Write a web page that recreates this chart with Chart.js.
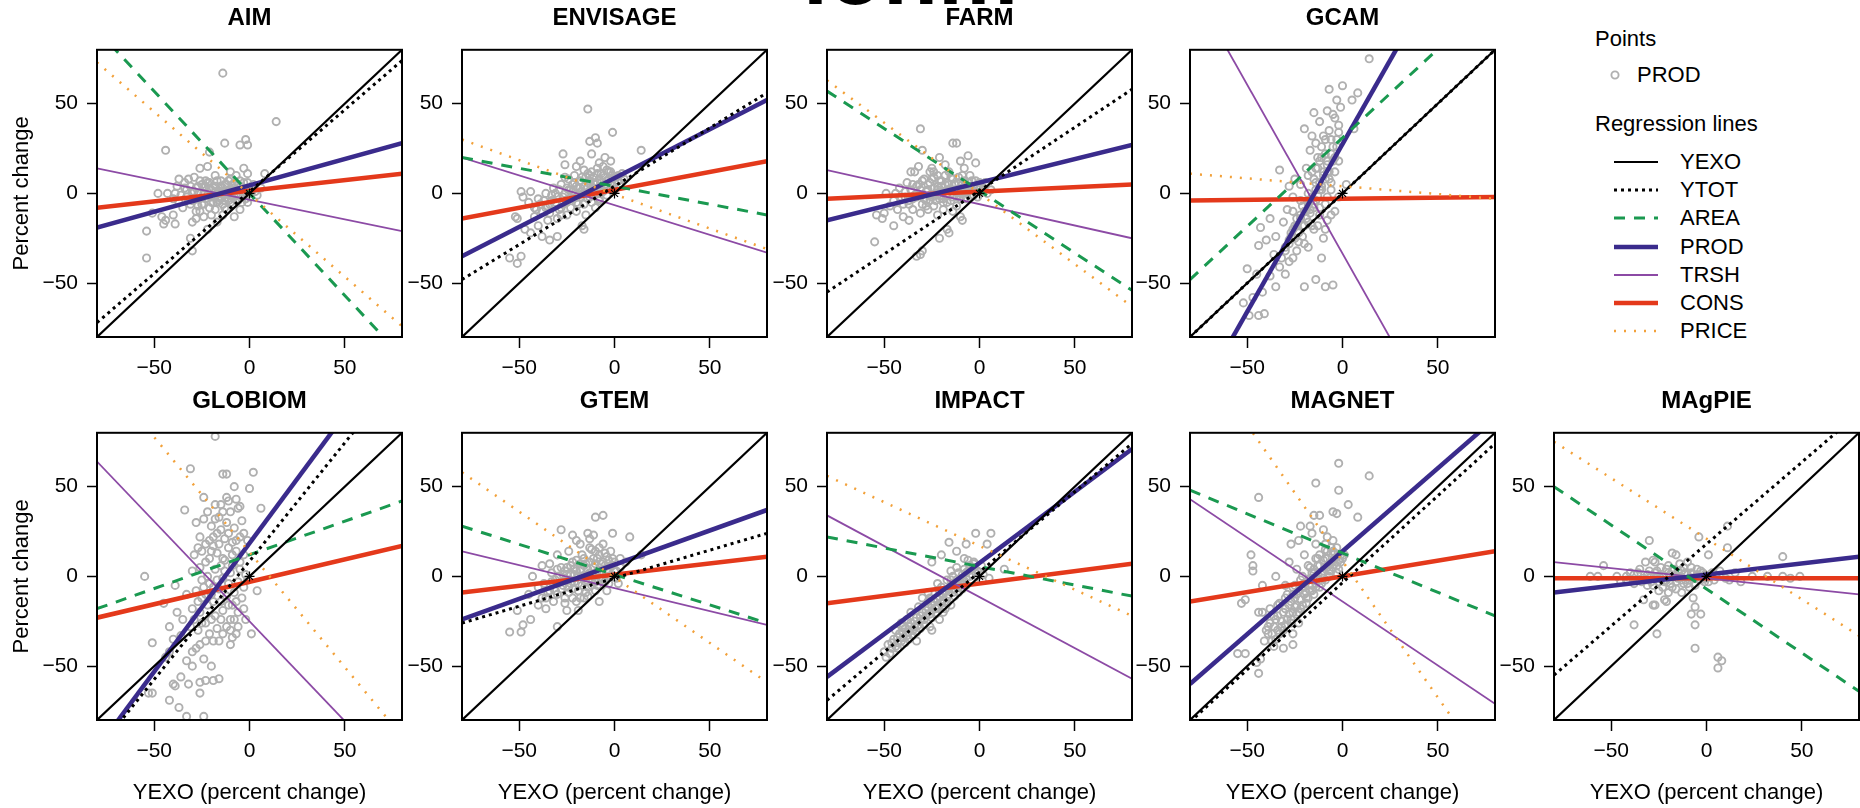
<!DOCTYPE html>
<html>
<head>
<meta charset="utf-8">
<script src="https://cdn.jsdelivr.net/npm/chart.js"></script>
<style>
  body { margin: 0; width: 1860px; height: 808px; overflow: hidden; background: #fff; position: relative;
         font-family: "Liberation Sans", Arial, Helvetica, sans-serif; color: #000; }
  canvas { position: absolute; }
  .txt { position: absolute; font-size: 22px; line-height: 26px; white-space: nowrap; }
  .cut { position: absolute; left: 803px; top: -72px; font-size: 90px; line-height: 90px; font-weight: bold; white-space: nowrap; }
  svg { position: absolute; left: 0; top: 0; }
</style>
</head>
<body>
<div class="cut">ionm</div>

<script>
// ---- data ----
const models = ['AIM', 'ENVISAGE', 'FARM', 'GCAM', 'GLOBIOM', 'GTEM', 'IMPACT', 'MAGNET', 'MAgPIE'];
const tickVals = [-50, 0, 50];
const lineX = [-80, 80];
const originMark = [0, 0];

// y of each regression line at x = -80 and x = 80, one pair per model
const yexoEnds = [-80, 80];
const ytotEnds  = [[-72, 74], [-48, 56], [-55, 58], [-80, 80], [-97, 114], [-26, 24], [-69, 74], [-81, 74], [-55, 91]];
const areaEnds  = [[91, -91], [20, -12], [57, -54], [-48, 110], [-18, 42], [28, -26], [22, -11], [48, -22], [50, -64]];
const prodEnds  = [[-19, 28], [-35, 52], [-15, 27], [-122, 177], [-96, 133], [-24, 37], [-56, 71], [-60, 88], [-9, 11]];
const trshEnds  = [[14, -21], [20, -33], [13, -25], [117, -184], [64, -114], [14, -27], [34, -57], [43, -71], [8, -10]];
const consEnds  = [[-8, 11], [-14, 18], [-3, 5], [-4, -2], [-23, 17], [-9, 11], [-15, 7], [-14, 14], [-1, -1]];
const priceEnds = [[73, -74], [30, -31], [63, -63], [11, -3], [116, -89], [58, -59], [56, -22], [130, -113], [75, -33]];

// PROD vs YEXO points
const aimPts = [[-14,67],[14,40],[-2,30],[-1,27],[-5,27],[-13,28],[-44,24],[-21,23],[-26,14],[-22,15],[-3,14],[-10,12],[-1,11],[8,11],[-37,8],[-32,8],
  [-48,0],[-43,0],[-51,-11],[-46,-13],[-40,-12],[-44,-15],[-45,-17],[-39,-17],[-30,-16],[-28,-14],[-54,-21],[-31,-25],[-54,-36],[-30,-32],
  [-40,-3],[-36,-1],[-33,2],[-30,-4],[-28,3],[-27,-7],[-25,5],[-24,0],[-23,-3],[-22,6],[-21,-8],[-20,2],[-19,-2],[-18,4],[-17,-5],[-16,1],[-15,7],
  [-15,-3],[-14,3],[-13,-8],[-12,0],[-12,5],[-11,-4],[-10,8],[-10,2],[-9,-6],[-8,3],[-7,-1],[-6,5],[-5,-9],[-4,1],[-3,6],[-2,-3],[0,2],[2,5],[4,-1],
  [6,3],[-26,-10],[-20,-12],[-17,-16],[-14,-12],[-8,-13],[-35,-8],[-38,4],[-29,9],[-18,10],[-7,10],[-24,-13],[-22,-20],
  [-34,3],[-31,-6],[-29,1],[-27,4],[-26,-3],[-23,7],[-21,3],[-19,-5],[-18,1],[-16,-2],[-15,4],[-13,-4],[-11,1],[-9,4],[-8,-2],[-6,-4],[-5,2],
  [-3,-1],[-1,-5],[1,0],[-24,-6],[-20,-2],[-14,0],[-10,-1],[-7,2],
  [-33,-2],[-31,4],[-29,-3],[-27,0],[-26,7],[-25,-6],[-23,4],[-22,-1],[-21,6],[-20,-5],[-19,3],[-18,-1],[-17,7],[-16,-4],[-15,1],[-14,-6],
  [-13,5],[-12,-2],[-11,7],[-10,-5],[-9,1],[-8,6],[-7,-4],[-6,0],[-5,7],[-4,-5],[-3,3],[-2,0],[-1,6],[0,-2],[1,3],[3,1],[-37,-5],[-34,6],
  [-30,1],[-24,3],[-28,-10],[-18,-9],[-12,-9],[-39,0]];
const envisagePts = [[-14,47],[-1,34],[14,24],[-10,31],[-13,29],[-9,28],[-27,22],[-12,22],[-5,20],[-8,17],[-2,18],[-20,15],[-16,13],[-4,13],[2,10],
  [-55,-36],[-51,-39],[-49,-35],[-49,1],[-44,1],[-48,-2],[-52,-13],[-51,-14],[-34,-26],[-30,-24],[-16,-20],[-17,-18],
  [-45,-5],[-42,-8],[-40,-3],[-38,-10],[-36,0],[-34,-6],[-32,3],[-30,-2],[-29,-9],[-28,5],[-26,0],[-25,-5],[-24,8],[-23,2],[-22,-3],[-21,10],[-20,4],
  [-19,-1],[-18,7],[-17,1],[-16,-6],[-15,9],[-14,3],[-13,-2],[-12,12],[-11,6],[-10,0],[-9,14],[-8,8],[-7,3],[-6,10],[-5,5],[-4,-1],[-3,8],[-2,2],
  [0,6],[3,4],[5,8],[-25,-12],[-20,-10],[-35,-15],[-40,-18],[-44,-22],[-30,-14],[-15,-12],[-10,-8],[-47,-20],[-38,-24],[-26,16],[-18,18],
  [-33,-4],[-31,0],[-27,-6],[-24,2],[-22,5],[-20,-2],[-18,3],[-16,0],[-14,6],[-13,10],[-11,3],[-9,6],[-7,11],[-6,1],[-4,7],[-2,12],[-1,4],
  [1,9],[-28,-12],[-23,-8],[-19,-6],[-12,-5],[-8,-3],[-36,-8],[-42,-13],
  [-41,-9],[-39,-6],[-37,-4],[-35,-7],[-33,-1],[-31,-5],[-29,2],[-27,-2],[-25,3],[-24,-3],[-22,1],[-21,6],[-19,3],[-18,-2],[-17,9],[-16,4],
  [-15,0],[-14,11],[-13,7],[-12,2],[-11,9],[-10,5],[-9,11],[-8,1],[-7,6],[-6,15],[-5,9],[-4,3],[-3,12],[-2,6],[-1,10],[0,2],[2,7],[4,11],
  [-28,-8],[-34,-11],[-20,-5],[-14,-3],[-8,-4],[-26,9]];
const farmPts = [[-31,36],[-14,28],[-12,28],[-30,24],[-21,20],[-2,17],[-34,12],[-32,15],[-36,12],[-25,14],[-18,16],[-8,14],[-5,10],
  [-55,-27],[-50,-11],[-54,-12],[-51,-14],[-45,-18],[-49,0],[-44,0],[-39,-2],[-37,-6],[-33,-35],[-30,-32],[-31,-34],[-21,-25],[-16,-22],[-17,-20],
  [-10,-13],[-9,-15],[-19,-5],[-24,-7],[-31,-11],[-37,-15],[-40,-13],
  [-42,3],[-40,-6],[-38,6],[-35,-3],[-33,4],[-31,-1],[-29,8],[-28,-4],[-27,2],[-26,6],[-25,-2],[-24,9],[-23,0],[-22,4],[-21,-3],[-20,7],[-19,1],
  [-18,10],[-17,-1],[-16,5],[-15,-4],[-14,8],[-13,2],[-12,-2],[-11,6],[-10,0],[-9,10],[-8,3],[-7,-3],[-6,6],[-4,2],[-3,-1],[-1,4],[1,1],[3,6],[6,2],
  [-27,-9],[-22,-12],[-14,-10],[-26,12],[-10,18],[-6,21],
  [-36,2],[-34,-1],[-32,5],[-30,-6],[-28,1],[-26,-4],[-24,3],[-22,-1],[-20,4],[-19,-3],[-17,6],[-15,2],[-13,5],[-11,-1],[-9,5],[-7,1],[-5,4],
  [-3,3],[-2,7],[0,3],[-45,-4],[-43,-9],[-47,-7],[-16,12],[-22,10],
  [-41,-2],[-39,1],[-37,-4],[-35,5],[-33,-2],[-31,2],[-30,7],[-29,-3],[-27,5],[-26,-1],[-25,8],[-23,-4],[-22,2],[-21,7],[-20,-1],[-18,5],
  [-17,-5],[-16,2],[-15,9],[-14,-2],[-13,5],[-12,1],[-11,9],[-10,-3],[-9,3],[-8,7],[-7,0],[-6,3],[-5,-2],[-4,7],[-2,1],[-1,-2],[0,6],[2,3],
  [4,0],[-35,-9],[-28,-7],[-19,-9],[-12,-7],[-24,12]];
const gcamPts = [[14,75],[-7,58],[8,56],[5,52],[-15,45],[6,36],[-20,36],[-12,40],[-8,46],[-4,42],[-2,38],[-10,32],[-6,30],[-14,28],[-3,26],[-9,22],
  [-17,24],[-12,18],[-5,18],[-19,14],[-33,13],[-8,12],[-15,8],[-22,5],[-11,4],[-18,0],[-6,2],[-26,-2],[-14,-4],[-21,-7],[-9,-6],[-29,-9],[-17,-11],
  [-24,-14],[-12,-12],[-31,-16],[-20,-18],[-27,-22],[-15,-20],[-35,-24],[-23,-27],[-40,-26],[-44,-29],[-30,-30],[-36,-34],[-26,-36],[-33,-41],
  [-50,-42],[-45,-45],[-38,-46],[-52,-61],[-49,-68],[-44,-68],[-41,-67],[-20,-52],[-14,-48],[-9,-52],[-5,-51],[-35,-52],[-42,-55],[-47,-58],
  [-30,-45],[-28,-38],[-18,-30],[-10,-25],[-8,-15],[-4,-10],[-2,-2],[-25,8],[-13,14],[-28,4],[-38,-14],[-43,-19],[-7,8],[-16,32],[-1,48],[-11,-36],[2,5],
  [-13,20],[-11,26],[-9,30],[-7,35],[-5,44],[-16,12],[-14,6],[-12,2],[-17,-4],[-15,-8],[-19,-10],[-22,-12],[-18,-16],[-25,-18],[-21,-24],
  [-28,-26],[-24,-32],[-32,-36],[-9,-20],[-6,-12],[-13,-18],[-3,52],[0,60],[-10,10],[-8,18],
  [-30,-32],[-28,-28],[-27,-24],[-26,-20],[-25,-25],[-24,-18],[-23,-22],[-22,-14],[-21,-18],[-20,-10],[-19,-14],[-18,-6],[-17,-9],[-16,-2],
  [-15,-6],[-14,2],[-13,-1],[-12,6],[-11,2],[-10,12],[-9,8],[-8,16],[-7,12],[-6,22],[-5,26],[-4,20],[-3,30],[-2,34],[-11,20],[-14,14],
  [-18,10],[-22,-4],[-26,-10],[-20,-28],[-16,-18],[-12,-8],[-8,-2],[-6,6],[-4,12],[-2,18]];
const globiomPts = [[-18,78],[-31,60],[-14,57],[-12,57],[2,58],[0,49],[-34,37],[-11,42],[-7,43],[-5,39],[6,38],[-55,0],[-39,-5],[-51,-37],[-53,-65],
  [-51,-65],[-40,-60],[-39,-61],[-42,-69],[-37,-73],[-33,-78],[-24,-78],[-26,-59],[-23,-58],[-19,-58],[-16,-57],[-44,-45],[-42,-42],[-33,-47],
  [-30,-42],[-26,-38],[-23,-36],[-19,-36],[-16,-36],[-10,-38],[-9,-34],[-7,-32],[1,-32],
  [-28,30],[-24,32],[-20,28],[-16,33],[-12,30],[-8,27],[-4,31],[-26,22],[-21,20],[-17,24],[-13,21],[-9,19],[-5,22],[-1,20],[-29,12],[-25,14],
  [-21,10],[-17,13],[-13,9],[-9,12],[-5,8],[-30,3],[-26,5],[-22,0],[-18,4],[-14,-1],[-10,2],[-6,-3],[-2,1],[-28,-8],[-24,-6],[-20,-10],[-16,-7],
  [-12,-11],[-8,-9],[-4,-12],[-30,-18],[-26,-20],[-22,-16],[-18,-22],[-14,-19],[-10,-24],[-6,-20],[-35,-24],[-31,-28],[-27,-30],[-23,-26],
  [-17,-29],[-12,-28],[-45,-15],[-38,-20],[-42,-28],[-36,-33],[-30,-50],[-36,-56],[-20,14],[-15,40],[-24,44],[-3,12],[-33,-10],[-9,-16],[4,-8],[-40,-35],
  [-22,36],[-18,40],[-10,36],[-6,38],[-19,17],[-11,16],[-7,14],[-23,8],[-15,6],[-11,-4],[-19,-14],[-15,-24],[-8,-24],[-21,-32],[-28,-40],
  [-24,-46],[-20,-50],[-32,-60],[-26,-65],[-14,10],[-3,-6],[-25,-12],[-16,18],[-12,44],[-8,50],
  [-27,16],[-23,18],[-19,22],[-15,26],[-11,24],[-7,20],[-3,24],[-25,-2],[-21,-4],[-17,-2],[-13,3],[-9,6],[-5,4],[-1,-2],[-27,-14],[-23,-10],
  [-19,-6],[-15,-14],[-11,-16],[-7,-14],[-3,-18],[-29,-24],[-25,-26],[-20,-24],[-14,-32],[-10,-30],[-6,-28],[-2,-24],[-18,32],[-14,36]];
const gtemPts = [[-10,33],[-6,34],[-28,26],[-22,23],[-1,24],[8,22],[-14,24],[-11,23],[-13,21],[-55,-31],[-49,-31],[-48,-27],[-44,-24],[-51,-19],
  [-30,-28],[-25,-19],[-19,-19],[-16,-12],[-8,-14],[-43,0],[-38,6],[-34,7],[-28,5],[14,12],[6,8],
  [-45,-10],[-40,-6],[-36,-12],[-33,-3],[-31,-8],[-29,0],[-27,-5],[-26,3],[-24,-2],[-23,6],[-22,-7],[-21,1],[-20,9],[-19,-4],[-18,4],[-17,12],
  [-16,-1],[-15,7],[-14,-6],[-13,2],[-12,15],[-11,5],[-10,-3],[-9,10],[-8,2],[-7,7],[-6,-1],[-5,13],[-4,4],[-3,9],[-2,0],[-1,6],[1,3],[3,10],
  [-36,-18],[-32,-14],[-40,-16],[-26,-12],[-20,-14],[-30,12],[-24,14],[-18,18],[-6,18],[-4,-8],[2,-4],
  [-28,-3],[-25,1],[-23,-4],[-21,4],[-19,0],[-17,-5],[-16,6],[-14,1],[-12,-2],[-11,10],[-9,3],[-7,-2],[-5,6],[-3,2],[-1,10],[0,3],[-30,-10],
  [-24,-9],[-15,-9],[-10,-8],[-34,-8],[-13,16],[-8,16],[-20,20],[-38,-12],
  [-37,-4],[-35,-9],[-33,2],[-31,-2],[-30,4],[-28,-7],[-27,1],[-25,5],[-24,-6],[-23,1],[-22,8],[-21,-3],[-20,3],[-19,-8],[-18,7],[-17,0],
  [-16,10],[-15,-3],[-14,4],[-13,8],[-12,-5],[-11,0],[-10,7],[-9,-5],[-8,12],[-7,3],[-6,8],[-5,-3],[-4,11],[-3,-4],[-2,6],[0,8],[1,-1],[3,5],
  [-26,-15],[-22,-12],[-18,-12],[-14,-11],[-10,14],[-2,14]];
const impactPts = [[-2,24],[6,24],[-16,19],[-7,18],[4,18],[13,4],[5,-1],[-12,14],[-20,12],[-25,8],[-8,10],[-3,8],
  [-50,-42],[-48,-38],[-46,-40],[-45,-35],[-43,-37],[-42,-32],[-40,-34],[-39,-29],[-37,-31],[-36,-26],[-34,-28],[-33,-23],[-31,-25],[-30,-20],
  [-28,-22],[-27,-17],[-25,-19],[-24,-14],[-22,-16],[-21,-11],[-19,-13],[-18,-8],[-16,-10],[-15,-5],[-13,-7],[-12,-2],[-10,-4],[-9,1],[-7,-1],
  [-6,3],[-4,1],[-3,5],[-1,3],[1,6],[2,1],[-44,-30],[-38,-24],[-32,-17],[-26,-12],[-20,-6],[-14,0],[-8,4],[-35,-33],[-29,-27],[-23,-21],[-17,-15],
  [-11,-9],[-41,-26],[-27,-9],[-17,-2],[-11,2],[-30,-12],[-22,-4],[-15,3],[-5,6],[-36,-20],[-9,-7],[-33,-36],[-26,-28],[-19,-20],[-40,-28],
  [-21,-24],[-25,-30],[-15,-16],
  [-47,-43],[-44,-39],[-41,-36],[-38,-33],[-35,-30],[-32,-27],[-29,-24],[-26,-21],[-23,-18],[-20,-15],[-17,-12],[-14,-9],[-11,-6],[-8,-3],
  [-5,0],[-2,2],[-37,-28],[-31,-22],[-25,-16],[-19,-10],[-13,-4],[-7,2],[-43,-34],[-49,-45],[-18,-18],
  [-46,-37],[-43,-40],[-40,-31],[-37,-35],[-34,-25],[-31,-29],[-28,-19],[-25,-23],[-22,-13],[-19,-17],[-16,-7],[-13,-11],[-10,-1],[-7,-5],
  [-4,4],[-1,0],[-27,-14],[-21,-8],[-15,-2],[-9,-1],[-3,7],[-33,-31],[-39,-37],[-12,5],[-6,9]];
const magnetPts = [[-2,63],[14,56],[-14,52],[-2,48],[-44,44],[3,40],[-5,36],[-3,35],[-15,34],[-12,34],[8,33],[-22,28],[-17,28],[-27,18],[-23,20],
  [-48,12],[-47,6],[-47,3],[-53,-15],[-51,-13],[-44,-20],[-42,-20],[-55,-43],[-51,-43],[-45,-48],[-44,-54],[-43,-46],[-39,-32],[-36,-39],[-26,-32],[-23,-26],
  [-40,-30],[-38,-26],[-36,-28],[-34,-22],[-32,-25],[-30,-18],[-28,-21],[-27,-14],[-25,-17],[-24,-10],[-22,-13],[-21,-6],[-19,-9],[-18,-2],[-16,-5],
  [-15,2],[-13,-1],[-12,6],[-10,3],[-9,10],[-7,7],[-6,13],[-4,10],[-3,16],[-1,12],[-33,-15],[-29,-10],[-25,-5],[-21,0],[-17,5],[-13,10],[-9,15],
  [-5,20],[-35,-35],[-31,-30],[-27,-26],[-23,-20],[-19,-15],[-15,-10],[-11,-4],[-7,0],[-38,-18],[-30,-5],[-24,4],[-20,12],[-14,18],[-8,22],[-28,8],
  [-35,0],[-42,-5],[-16,24],[-10,26],[-2,4],[-26,-38],[-31,-40],
  [-37,-32],[-34,-30],[-32,-28],[-29,-24],[-26,-20],[-24,-16],[-22,-18],[-20,-10],[-18,-12],[-16,-8],[-14,-4],[-12,-6],[-11,1],[-9,-2],[-8,5],
  [-6,3],[-5,8],[-3,6],[-2,9],[0,10],[-20,-4],[-16,2],[-12,12],[-8,14],[-26,-10],
  [-41,-36],[-39,-28],[-37,-36],[-35,-24],[-33,-32],[-31,-20],[-30,-27],[-28,-16],[-27,-24],[-25,-12],[-24,-21],[-23,-8],[-21,-16],[-20,-4],
  [-19,-12],[-17,-1],[-17,-8],[-15,4],[-14,-6],[-13,6],[-12,-2],[-10,9],[-10,-1],[-8,10],[-7,3],[-6,16],[-5,5],[-4,13],[-3,2],[-1,8],[1,12],
  [-22,-2],[-18,6],[-14,10],[-26,-6],[-30,-12],[-34,-16],[-9,18],[-5,14],[-36,-22]];
const magpiePts = [[-30,20],[-18,13],[-16,12],[-4,22],[11,16],[11,28],[40,11],[-54,6],[-32,8],[-27,8],[-61,0],[-57,0],[-47,0],[-42,0],[-38,-4],
  [-36,-2],[-33,-13],[-28,-16],[-27,-16],[-22,-13],[-21,-14],[-38,-27],[-26,-32],[-7,-12],[-6,-17],[-8,-21],[-3,-21],[-6,-27],[-6,-40],[6,-45],
  [8,-47],[6,-51],[12,-2],[24,0],[32,0],[40,0],[44,-1],[49,0],[1,12],
  [-45,-3],[-40,2],[-35,4],[-32,-2],[-30,3],[-28,-5],[-26,0],[-24,5],[-22,-3],[-20,2],[-18,-6],[-17,4],[-15,-1],[-14,7],[-12,-4],[-11,2],[-9,-2],
  [-8,5],[-6,-5],[-5,1],[-3,3],[-1,-3],[2,1],[4,-2],[7,3],[10,-1],[15,2],[-25,-8],[-20,-9],[-13,-9],[-28,9],[-10,8],[18,-3],
  [-38,1],[-33,-1],[-29,0],[-27,2],[-25,-3],[-23,0],[-21,-2],[-19,1],[-18,3],[-16,-3],[-14,0],[-13,3],[-11,-2],[-10,1],[-7,-1],[-4,0],[-2,2],
  [0,-1],[3,2],[-31,-5],[-23,-6],[-16,-7],[-9,-6],[-42,-2],[-20,6],
  [-36,2],[-34,-3],[-31,1],[-29,-3],[-26,3],[-24,-1],[-21,4],[-19,-4],[-17,0],[-15,3],[-13,-2],[-12,5],[-10,-4],[-8,2],[-6,-1],[-5,4],[-3,-2],
  [-1,1],[1,-3],[5,0]];
const pointSets = [aimPts, envisagePts, farmPts, gcamPts, globiomPts, gtemPts, impactPts, magnetPts, magpiePts];

// ---- styles ----
const FONT = '"Liberation Sans", Arial, Helvetica, sans-serif';
const series = [
  { name: 'YEXO',  color: '#000000', width: 2.2, dash: [],      order: 2 },
  { name: 'YTOT',  color: '#000000', width: 3,   dash: [3, 4],  order: 3 },
  { name: 'AREA',  color: '#1a9950', width: 3,   dash: [11, 9], order: 4 },
  { name: 'PROD',  color: '#3a2b8c', width: 4.5, dash: [],      order: 5 },
  { name: 'TRSH',  color: '#8c4aa5', width: 1.8, dash: [],      order: 6 },
  { name: 'CONS',  color: '#e4391b', width: 4.5, dash: [],      order: 7 },
  { name: 'PRICE', color: '#f2a13a', width: 2.5, dash: [2, 8],  order: 1 }
];
const pointColor = '#b0b0b0';

Chart.defaults.font.family = FONT;
Chart.defaults.color = '#000';

const boxPlugin = {
  id: 'box',
  afterDatasetsDraw(chart) {
    const { ctx, chartArea: a } = chart;
    ctx.save();
    ctx.strokeStyle = '#000';
    ctx.lineWidth = 2;
    ctx.strokeRect(a.left, a.top, a.right - a.left, a.bottom - a.top);
    ctx.restore();
  }
};

const plotLefts = [97, 462, 827, 1190, 1554];
const fmt = v => v < 0 ? '\u2212' + (-v) : String(v);

models.forEach((name, i) => {
  const row = i < 4 ? 0 : 1;
  const col = row ? i - 4 : i;
  const h = row ? 425 : 387;
  const cv = document.createElement('canvas');
  cv.width = 412; cv.height = h;
  cv.style.left = (plotLefts[col] - 97) + 'px';
  cv.style.top = (row ? 383 : 0) + 'px';
  document.body.appendChild(cv);

  const ends = [yexoEnds, ytotEnds[i], areaEnds[i], prodEnds[i], trshEnds[i], consEnds[i], priceEnds[i]];
  const lineSets = series.map((s, k) => ({
    label: s.name,
    data: lineX.map((x, j) => ({ x, y: ends[k][j] })),
    showLine: true, pointRadius: 0, fill: false,
    borderColor: s.color, borderWidth: s.width, borderDash: s.dash,
    borderCapStyle: 'butt', order: s.order
  }));

  new Chart(cv, {
    type: 'scatter',
    data: {
      datasets: [
        ...lineSets,
        { label: 'origin', data: [{ x: originMark[0], y: originMark[1] }], pointStyle: 'star',
          pointRadius: 5, borderColor: '#000', borderWidth: 1.2, order: 0 },
        { label: 'PROD points', data: pointSets[i].map(([x, y]) => ({ x, y })), pointStyle: 'circle',
          pointRadius: 3.6, borderColor: pointColor, backgroundColor: 'rgba(0,0,0,0)', borderWidth: 1.9, order: 10 }
      ]
    },
    options: {
      responsive: false, animation: false, events: [], devicePixelRatio: 1,
      layout: { padding: { left: 0, right: 10, top: 0, bottom: 0 } },
      plugins: {
        legend: { display: false }, tooltip: { enabled: false },
        title: { display: true, text: name, fullSize: false, color: '#000',
                 font: { size: 24, weight: 'bold', family: FONT }, padding: { top: 4, bottom: 17 } }
      },
      scales: {
        x: {
          type: 'linear', min: -80, max: 80,
          afterFit: s => { s.height = h - 50 - 287; },
          afterBuildTicks: s => { s.ticks = tickVals.map(v => ({ value: v })); },
          ticks: { callback: fmt, font: { size: 21 }, color: '#000', padding: 8, maxRotation: 0 },
          grid: { drawOnChartArea: false, drawTicks: true, tickLength: 11, tickColor: '#000', tickWidth: 1.5 },
          border: { display: false },
          title: { display: row === 1, text: 'YEXO (percent change)', color: '#000',
                   font: { size: 22 }, padding: { top: 0, bottom: 2 } }
        },
        y: {
          type: 'linear', min: -80, max: 80,
          afterFit: s => { s.width = 97; },
          afterBuildTicks: s => { s.ticks = tickVals.map(v => ({ value: v })); },
          ticks: { callback: fmt, font: { size: 21 }, color: '#000', padding: 9 },
          grid: { drawOnChartArea: false, drawTicks: true, tickLength: 10, tickColor: '#000', tickWidth: 1.5 },
          border: { display: false },
          title: { display: col === 0, text: 'Percent change', color: '#000',
                   font: { size: 22 }, padding: { top: 9, bottom: 0 } }
        }
      }
    },
    plugins: [boxPlugin]
  });
});

// ---- legend ----
const legendRowsY = [162, 190, 218, 247, 275, 303, 331];
function addText(text, left, cy) {
  const d = document.createElement('div');
  d.className = 'txt';
  d.textContent = text;
  d.style.left = left + 'px';
  d.style.top = (cy - 13) + 'px';
  document.body.appendChild(d);
}
addText('Points', 1595, 39);
addText('PROD', 1637, 75);
addText('Regression lines', 1595, 124);

const NS = 'http://www.w3.org/2000/svg';
const svg = document.createElementNS(NS, 'svg');
svg.setAttribute('width', 1860); svg.setAttribute('height', 808);
const c = document.createElementNS(NS, 'circle');
c.setAttribute('cx', 1615); c.setAttribute('cy', 75); c.setAttribute('r', 3.6);
c.setAttribute('fill', 'none'); c.setAttribute('stroke', pointColor); c.setAttribute('stroke-width', 1.9);
svg.appendChild(c);
series.forEach((s, k) => {
  const l = document.createElementNS(NS, 'line');
  l.setAttribute('x1', 1614); l.setAttribute('x2', 1658);
  l.setAttribute('y1', legendRowsY[k]); l.setAttribute('y2', legendRowsY[k]);
  l.setAttribute('stroke', s.color); l.setAttribute('stroke-width', s.width);
  if (s.dash.length) l.setAttribute('stroke-dasharray', s.dash.join(' '));
  svg.appendChild(l);
  addText(s.name, 1680, legendRowsY[k]);
});
document.body.appendChild(svg);
</script>
</body>
</html>
